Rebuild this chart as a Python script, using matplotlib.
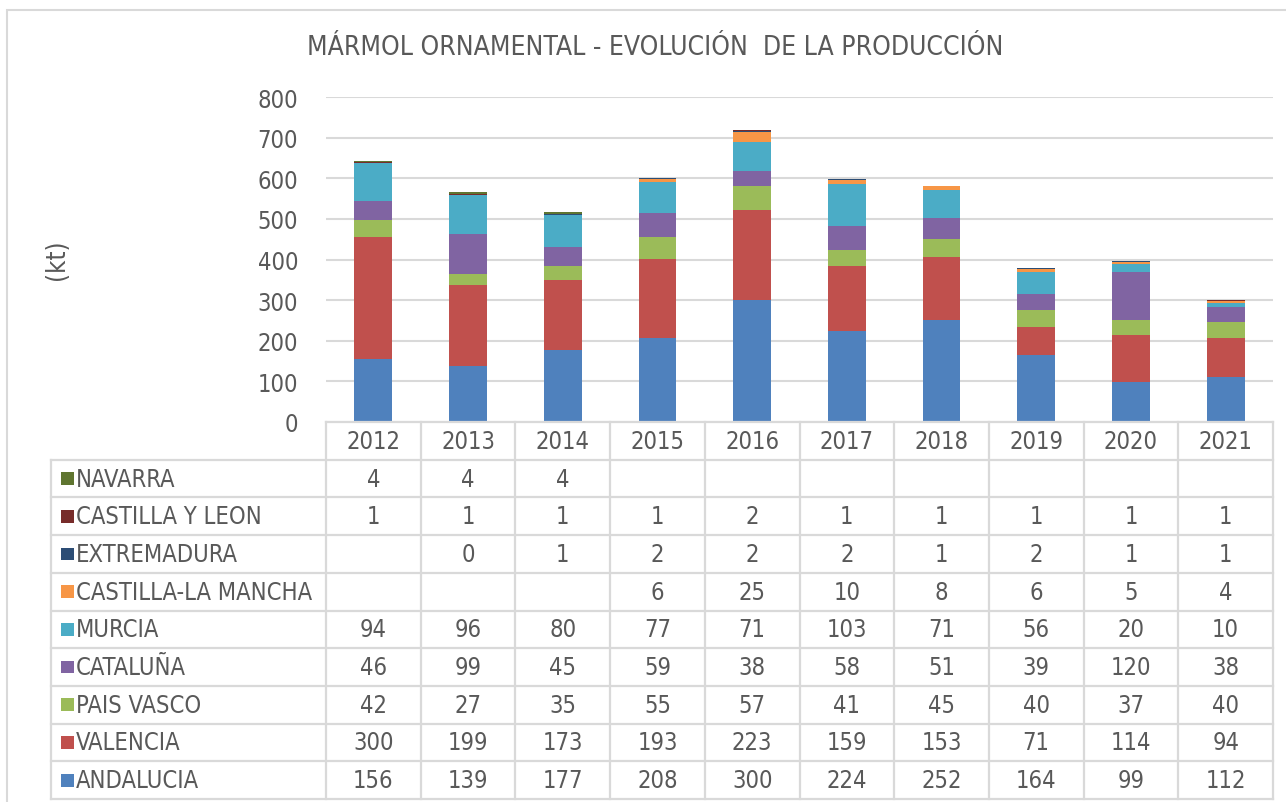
import matplotlib
matplotlib.use("Agg")
import matplotlib.pyplot as plt
from matplotlib.patches import Rectangle

plt.rcParams['font.family'] = ['DejaVu Sans']
plt.rcParams['font.stretch'] = 'condensed'

years = ["2012", "2013", "2014", "2015", "2016", "2017", "2018", "2019", "2020", "2021"]

# bottom to top order of the stack
regions = ["ANDALUCIA", "VALENCIA", "PAIS VASCO", "CATALUÑA", "MURCIA",
           "CASTILLA-LA MANCHA", "EXTREMADURA", "CASTILLA Y LEON", "NAVARRA"]
colors = ["#4F81BD", "#C0504D", "#9BBB59", "#8064A2", "#4BACC6",
          "#F79646", "#2C4D75", "#772C2A", "#5F7530"]

andalucia = [156, 139, 177, 208, 300, 224, 252, 164, 99, 112]
valencia = [300, 199, 173, 193, 223, 159, 153, 71, 114, 94]
pais_vasco = [42, 27, 35, 55, 57, 41, 45, 40, 37, 40]
cataluna = [46, 99, 45, 59, 38, 58, 51, 39, 120, 38]
murcia = [94, 96, 80, 77, 71, 103, 71, 56, 20, 10]
castilla_la_mancha = [None, None, None, 6, 25, 10, 8, 6, 5, 4]
extremadura = [None, 0, 1, 2, 2, 2, 1, 2, 1, 1]
castilla_y_leon = [1, 1, 1, 1, 2, 1, 1, 1, 1, 1]
navarra = [4, 4, 4, None, None, None, None, None, None, None]

series = [andalucia, valencia, pais_vasco, cataluna, murcia,
          castilla_la_mancha, extremadura, castilla_y_leon, navarra]

W, H = 1286, 803
fig = plt.figure(figsize=(W / 100, H / 100), dpi=100)

TXT = "#595959"
GRID = "#D9D9D9"
FS = 17


def fx(px):
    return px / W


def fy(py):
    return 1 - py / H


# outer chart border
fig.patches.append(Rectangle((fx(7), -0.1), 1.2, fy(11) + 0.1, transform=fig.transFigure,
                             fill=False, edgecolor=GRID, lw=1.5))

# bar axes
left, right, top, base = 326, 1273, 98, 423
ax = fig.add_axes([fx(left), fy(base), fx(right) - fx(left), fy(top) - fy(base)])
x = list(range(len(years)))
bottom = [0] * len(years)
for vals, c in zip(series, colors):
    v = [0 if a is None else a for a in vals]
    ax.bar(x, v, width=0.4, bottom=bottom, color=c, linewidth=0, zorder=3)
    bottom = [b + a for b, a in zip(bottom, v)]

ax.set_xlim(-0.5, len(years) - 0.5)
ax.set_ylim(0, 800)
ax.set_yticks(range(0, 801, 100))
ax.yaxis.grid(True, color=GRID, lw=1.5, zorder=0)
ax.set_xticks([])
for s in ax.spines.values():
    s.set_visible(False)
ax.tick_params(axis='y', length=0, labelsize=FS, labelcolor=TXT, pad=20)

fig.text(fx(57), fy(260), "(kt)", rotation=90, ha="center", va="center", fontsize=18.5, color=TXT)

fig.text(fx(655), fy(48), "MÁRMOL ORNAMENTAL - EVOLUCIÓN  DE LA PRODUCCIÓN",
         ha="center", va="center", fontsize=19, color=TXT)

# data table below
tleft = 51
tbottom = 800
tax = fig.add_axes([fx(tleft), fy(tbottom), fx(right) - fx(tleft), fy(base) - fy(tbottom)])
col_w = (right - left) / len(years)
xl = -0.5 - (left - tleft) / col_w
tax.set_xlim(xl, len(years) - 0.5)
tax.set_ylim(10, 0)
tax.axis("off")

nrows = 1 + len(regions)
lw = 1.6
tax.plot([-0.5, len(years) - 0.5], [0, 0], color=GRID, lw=lw, clip_on=False)
for r in range(1, nrows + 1):
    tax.plot([xl, len(years) - 0.5], [r, r], color=GRID, lw=lw, clip_on=False)
tax.plot([xl, xl], [1, nrows], color=GRID, lw=lw, clip_on=False)
for i in range(len(years) + 1):
    tax.plot([i - 0.5, i - 0.5], [0, nrows], color=GRID, lw=lw, clip_on=False)

for i, yr in enumerate(years):
    tax.text(i, 0.5, yr, ha="center", va="center", fontsize=FS, color=TXT)

sq = 13 / col_w
# table rows top to bottom: reverse of stack order
for r, k in enumerate(range(len(regions) - 1, -1, -1)):
    yc = r + 1.5
    tax.add_patch(Rectangle((xl + 10 / col_w, yc - 0.17), sq, 0.34, color=colors[k], lw=0))
    tax.text(xl + 25 / col_w, yc, regions[k], ha="left", va="center", fontsize=FS, color=TXT)
    for i, v in enumerate(series[k]):
        if v is not None:
            tax.text(i, yc, str(v), ha="center", va="center", fontsize=FS, color=TXT)

fig.savefig("out.png", dpi=100)
